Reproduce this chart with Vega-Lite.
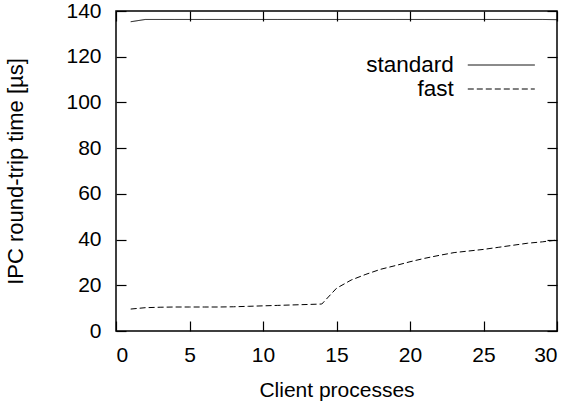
{
  "$schema": "https://vega.github.io/schema/vega-lite/v6.json",
  "width": 441,
  "height": 320,
  "autosize": "none",
  "padding": {"left": 116, "top": 11, "right": 17, "bottom": 75},
  "config": {
    "font": "Liberation Sans",
    "view": {"stroke": "black", "strokeWidth": 1.5},
    "axis": {
      "grid": false,
      "domain": false,
      "tickColor": "black",
      "tickWidth": 1.2,
      "tickSize": 10,
      "offset": -10,
      "labelFontSize": 21,
      "labelColor": "black",
      "titleFontSize": 21,
      "titleFontWeight": "normal",
      "titleColor": "black",
      "labelFont": "Liberation Sans",
      "titleFont": "Liberation Sans"
    }
  },
  "data": {
    "values": [
      {"clients": 1, "series": "standard", "time": 135.3},
      {"clients": 2, "series": "standard", "time": 136.3},
      {"clients": 3, "series": "standard", "time": 136.3},
      {"clients": 4, "series": "standard", "time": 136.3},
      {"clients": 5, "series": "standard", "time": 136.3},
      {"clients": 6, "series": "standard", "time": 136.3},
      {"clients": 7, "series": "standard", "time": 136.3},
      {"clients": 8, "series": "standard", "time": 136.3},
      {"clients": 9, "series": "standard", "time": 136.3},
      {"clients": 10, "series": "standard", "time": 136.3},
      {"clients": 11, "series": "standard", "time": 136.3},
      {"clients": 12, "series": "standard", "time": 136.3},
      {"clients": 13, "series": "standard", "time": 136.3},
      {"clients": 14, "series": "standard", "time": 136.3},
      {"clients": 15, "series": "standard", "time": 136.3},
      {"clients": 16, "series": "standard", "time": 136.3},
      {"clients": 17, "series": "standard", "time": 136.3},
      {"clients": 18, "series": "standard", "time": 136.3},
      {"clients": 19, "series": "standard", "time": 136.3},
      {"clients": 20, "series": "standard", "time": 136.3},
      {"clients": 21, "series": "standard", "time": 136.3},
      {"clients": 22, "series": "standard", "time": 136.3},
      {"clients": 23, "series": "standard", "time": 136.3},
      {"clients": 24, "series": "standard", "time": 136.3},
      {"clients": 25, "series": "standard", "time": 136.3},
      {"clients": 26, "series": "standard", "time": 136.3},
      {"clients": 27, "series": "standard", "time": 136.3},
      {"clients": 28, "series": "standard", "time": 136.3},
      {"clients": 29, "series": "standard", "time": 136.3},
      {"clients": 30, "series": "standard", "time": 136.2},
      {"clients": 1, "series": "fast", "time": 9.6},
      {"clients": 2, "series": "fast", "time": 10.2},
      {"clients": 3, "series": "fast", "time": 10.4},
      {"clients": 4, "series": "fast", "time": 10.5},
      {"clients": 5, "series": "fast", "time": 10.5},
      {"clients": 6, "series": "fast", "time": 10.5},
      {"clients": 7, "series": "fast", "time": 10.5},
      {"clients": 8, "series": "fast", "time": 10.6},
      {"clients": 9, "series": "fast", "time": 10.8},
      {"clients": 10, "series": "fast", "time": 11.0},
      {"clients": 11, "series": "fast", "time": 11.2},
      {"clients": 12, "series": "fast", "time": 11.4},
      {"clients": 13, "series": "fast", "time": 11.6},
      {"clients": 14, "series": "fast", "time": 11.8},
      {"clients": 15, "series": "fast", "time": 18.7},
      {"clients": 16, "series": "fast", "time": 22.3},
      {"clients": 17, "series": "fast", "time": 24.8},
      {"clients": 18, "series": "fast", "time": 27.0},
      {"clients": 19, "series": "fast", "time": 28.6},
      {"clients": 20, "series": "fast", "time": 30.3},
      {"clients": 21, "series": "fast", "time": 31.8},
      {"clients": 22, "series": "fast", "time": 33.1},
      {"clients": 23, "series": "fast", "time": 34.3},
      {"clients": 24, "series": "fast", "time": 35.0},
      {"clients": 25, "series": "fast", "time": 35.7},
      {"clients": 26, "series": "fast", "time": 36.6},
      {"clients": 27, "series": "fast", "time": 37.5},
      {"clients": 28, "series": "fast", "time": 38.4},
      {"clients": 29, "series": "fast", "time": 39.0},
      {"clients": 30, "series": "fast", "time": 39.8}
    ]
  },
  "layer": [
    {
      "mark": {"type": "line", "color": "black", "strokeWidth": 1},
      "encoding": {
        "x": {
          "field": "clients", "type": "quantitative",
          "scale": {"domain": [0, 30], "nice": false, "zero": false},
          "axis": {"orient": "bottom", "values": [0, 5, 10, 15, 20, 25, 30], "labelPadding": 13.5, "title": "Client processes", "titlePadding": 14}
        },
        "y": {
          "field": "time", "type": "quantitative",
          "scale": {"domain": [0, 140], "nice": false},
          "axis": {"orient": "left", "values": [0, 20, 40, 60, 80, 100, 120, 140], "labelPadding": 15, "title": "IPC round-trip time [µs]", "titleFontSize": 22, "titlePadding": 38}
        },
        "strokeDash": {
          "field": "series", "type": "nominal",
          "scale": {"domain": ["standard", "fast"], "range": [[1, 0], [6, 3]]},
          "legend": {
            "orient": "none",
            "legendX": 373.3,
            "legendY": 42,
            "title": null,
            "symbolType": "M-3,0H3",
            "symbolSize": 499,
            "symbolStrokeColor": "black",
            "symbolStrokeWidth": 1,
            "labelAlign": "right",
            "labelOffset": -59.6,
            "labelFontSize": 22.5,
            "labelColor": "black",
            "labelFont": "Liberation Sans",
            "rowPadding": -1.6,
            "padding": 0
          }
        }
      }
    },
    {
      "mark": {"type": "line", "opacity": 0},
      "encoding": {
        "x": {
          "field": "clients", "type": "quantitative",
          "axis": {"orient": "top", "values": [0, 5, 10, 15, 20, 25, 30], "labels": false, "title": null}
        },
        "y": {
          "field": "time", "type": "quantitative",
          "axis": {"orient": "right", "values": [0, 20, 40, 60, 80, 100, 120, 140], "labels": false, "title": null}
        }
      }
    }
  ],
  "resolve": {"axis": {"x": "independent", "y": "independent"}}
}
